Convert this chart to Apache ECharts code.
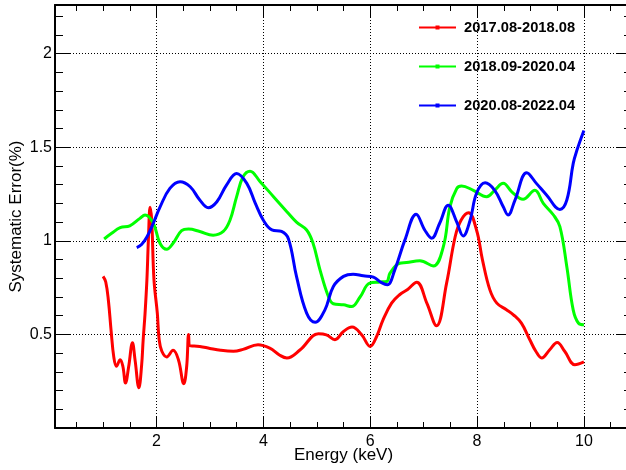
<!DOCTYPE html>
<html>
<head>
<meta charset="utf-8">
<script src="https://cdn.jsdelivr.net/npm/echarts@6/dist/echarts.min.js"></script>
<style>
html,body{margin:0;padding:0;background:#fff;}
#chart{width:626px;height:470px;}
</style>
</head>
<body>
<div id="chart"></div>
<script>
// ---- data ----
var seriesNames = ['2017.08-2018.08', '2018.09-2020.04', '2020.08-2022.04'];

var redX = [1.00,1.05,1.10,1.15,1.20,1.25,1.32,1.37,1.42,1.48,1.55,1.60,1.67,1.72,1.75,1.785,1.82,1.85,1.88,1.91,1.953,2.015,2.05,2.10,2.19,2.31,2.41,2.51,2.565,2.60,2.62,2.81,3.00,3.20,3.44,3.62,3.90,4.12,4.30,4.44,4.69,5.03,5.18,5.34,5.50,5.66,5.84,6.00,6.12,6.24,6.40,6.55,6.70,6.87,7.06,7.24,7.43,7.59,7.70,7.84,7.99,8.10,8.24,8.37,8.55,8.68,8.83,8.99,9.10,9.21,9.36,9.50,9.64,9.83,10.00];
var redY = [0.81,0.78,0.68,0.52,0.38,0.33,0.365,0.33,0.24,0.33,0.455,0.36,0.215,0.33,0.47,0.61,0.79,1.02,1.18,1.11,0.79,0.614,0.47,0.41,0.38,0.415,0.365,0.237,0.33,0.50,0.44,0.436,0.425,0.415,0.41,0.42,0.445,0.427,0.39,0.374,0.418,0.504,0.498,0.472,0.516,0.539,0.498,0.436,0.489,0.578,0.667,0.712,0.74,0.779,0.667,0.546,0.774,1.022,1.11,1.15,1.058,0.90,0.738,0.667,0.632,0.605,0.56,0.47,0.41,0.374,0.418,0.457,0.41,0.338,0.353];

var greenX = [1.02,1.16,1.32,1.50,1.69,1.785,1.94,2.065,2.19,2.31,2.47,2.60,2.81,3.06,3.25,3.375,3.50,3.62,3.75,3.94,4.19,4.44,4.62,4.81,4.93,5.06,5.22,5.31,5.50,5.65,5.81,5.99,6.18,6.31,6.37,6.55,6.68,6.93,7.18,7.37,7.49,7.62,7.71,7.93,8.18,8.33,8.49,8.65,8.86,9.08,9.24,9.43,9.55,9.68,9.80,9.90,10.00];
var greenY = [1.01,1.04,1.07,1.08,1.12,1.138,1.094,0.987,0.955,0.987,1.054,1.063,1.05,1.03,1.05,1.11,1.236,1.342,1.372,1.316,1.236,1.156,1.10,1.058,0.987,0.845,0.70,0.664,0.658,0.649,0.70,0.774,0.78,0.783,0.827,0.88,0.884,0.893,0.866,0.97,1.18,1.28,1.293,1.27,1.236,1.27,1.307,1.262,1.222,1.27,1.20,1.138,1.076,0.862,0.63,0.56,0.552];

var blueX = [1.63,1.72,1.82,1.94,2.065,2.25,2.44,2.63,2.81,2.97,3.13,3.31,3.50,3.69,3.85,4.00,4.16,4.34,4.47,4.62,4.81,4.97,5.15,5.31,5.50,5.68,5.87,6.06,6.21,6.32,6.46,6.65,6.86,7.02,7.15,7.30,7.46,7.62,7.74,7.87,7.99,8.15,8.33,8.49,8.58,8.71,8.93,9.11,9.30,9.55,9.68,9.80,9.87,10.00];
var blueY = [0.964,0.98,1.02,1.094,1.18,1.28,1.316,1.289,1.218,1.177,1.209,1.298,1.36,1.307,1.20,1.11,1.058,1.05,1.01,0.81,0.614,0.565,0.63,0.756,0.81,0.822,0.813,0.806,0.777,0.765,0.845,1.005,1.142,1.058,1.014,1.094,1.19,1.10,1.026,1.11,1.254,1.31,1.27,1.182,1.138,1.218,1.364,1.307,1.245,1.168,1.218,1.414,1.485,1.59];

var xMajorTicks = [2, 4, 6, 8, 10];
var xMinorTicks = [0.5,1,1.5,2,2.5,3,3.5,4,4.5,5,5.5,6,6.5,7,7.5,8,8.5,9,9.5,10,10.5];
var yMajorTicks = [0.5, 1, 1.5, 2];
var yMinorTicks = [0.1,0.2,0.3,0.4,0.5,0.6,0.7,0.8,0.9,1,1.1,1.2,1.3,1.4,1.5,1.6,1.7,1.8,1.9,2,2.1,2.2];

var colors = ['#ff0000', '#00ff00', '#0000ff'];

function zip(xs, ys) { return xs.map(function (x, i) { return [x, ys[i]]; }); }

var FONT = 'Liberation Sans, Arial, Helvetica, sans-serif';
var X_MIN = 0.1, X_MAX = 10.9, Y_MIN = 0, Y_MAX = 2.26;

function xAxisDef(pos, ticks, len, major) {
  return {
    type: 'value', position: pos, min: X_MIN, max: X_MAX,
    axisLine: { show: major, onZero: false, lineStyle: { color: '#000', width: 2 } },
    axisTick: { show: true, inside: true, length: len, customValues: ticks, lineStyle: { color: '#000', width: 1 } },
    axisLabel: (pos === 'bottom' && major) ? { show: true, customValues: ticks, color: '#000', fontSize: 16, fontFamily: FONT, margin: 6 } : { show: false },
    splitLine: (pos === 'bottom' && major) ? { show: true, lineStyle: { color: '#000', width: 1, type: [1, 2] } } : { show: false },
    name: (pos === 'bottom' && major) ? 'Energy (keV)' : '',
    nameLocation: 'middle', nameGap: 19, nameMoveOverlap: false,
    nameTextStyle: { color: '#000', fontSize: 17, fontFamily: FONT }
  };
}
function yAxisDef(pos, ticks, len, major) {
  return {
    type: 'value', position: pos, min: Y_MIN, max: Y_MAX,
    axisLine: { show: major, onZero: false, lineStyle: { color: '#000', width: 2 } },
    axisTick: { show: true, inside: true, length: len, customValues: ticks, lineStyle: { color: '#000', width: 1 } },
    axisLabel: (pos === 'left' && major) ? { show: true, customValues: ticks, color: '#000', fontSize: 16, fontFamily: FONT, margin: 3 } : { show: false },
    splitLine: (pos === 'left' && major) ? { show: true, lineStyle: { color: '#000', width: 1, type: [1, 2] } } : { show: false },
    name: (pos === 'left' && major) ? 'Systematic Error(%)' : '',
    nameLocation: 'middle', nameGap: 30, nameMoveOverlap: false,
    nameTextStyle: { color: '#000', fontSize: 17, fontFamily: FONT }
  };
}

var chart = echarts.init(document.getElementById('chart'), null, { renderer: 'canvas' });
var legendIcon = 'path://M0,1H37V3H0Z M16.5,0H20.5V4H16.5Z';

chart.setOption({
  animation: false,
  backgroundColor: '#fff',
  grid: { left: 55, top: 5, width: 577, height: 423, containLabel: false, outerBoundsMode: 'none' },
  xAxis: [
    xAxisDef('bottom', xMajorTicks, 12, true),
    xAxisDef('bottom', xMinorTicks, 6, false),
    xAxisDef('top', xMajorTicks, 12, true),
    xAxisDef('top', xMinorTicks, 6, false)
  ],
  yAxis: [
    yAxisDef('left', yMajorTicks, 16, true),
    yAxisDef('left', yMinorTicks, 8, false),
    yAxisDef('right', yMajorTicks, 16, true),
    yAxisDef('right', yMinorTicks, 8, false)
  ],
  legend: {
    orient: 'vertical', left: 419, top: 20, padding: 0,
    itemWidth: 37, itemHeight: 4, itemGap: 24,
    icon: legendIcon,
    data: seriesNames,
    textStyle: { color: '#000', fontSize: 14.7, fontWeight: 'bold', fontFamily: FONT, padding: [0, 0, 0, 3], lineHeight: 15 }
  },
  series: [
    { name: seriesNames[0], type: 'line', data: zip(redX, redY) },
    { name: seriesNames[1], type: 'line', data: zip(greenX, greenY) },
    { name: seriesNames[2], type: 'line', data: zip(blueX, blueY) }
  ].map(function (s, i) {
    s.xAxisIndex = 0; s.yAxisIndex = 0;
    s.smooth = 0.4; s.showSymbol = false; s.symbol = 'none';
    s.color = colors[i];
    s.itemStyle = { color: colors[i] };
    s.lineStyle = { color: colors[i], width: 3 };
    s.z = 3 + i;
    return s;
  })
});
</script>
</body>
</html>
